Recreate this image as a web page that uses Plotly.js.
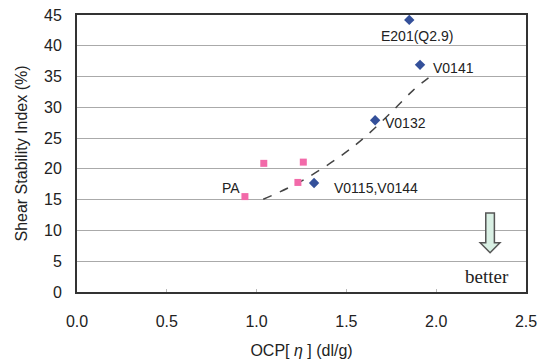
<!DOCTYPE html>
<html><head><meta charset="utf-8">
<script src="https://cdn.plot.ly/plotly-3.0.1.min.js"></script>
<style>html,body{margin:0;padding:0;background:#fff}#c{width:539px;height:363px}</style>
</head><body><div id="c"></div>
<script>
// OCP samples (blue diamonds)
const ocpX = [1.85, 1.91, 1.66, 1.32];
const ocpY = [44.2, 36.9, 27.9, 17.7];
const ocpNames = ["E201(Q2.9)", "V0141", "V0132", "V0115,V0144"];
// PA samples (pink squares)
const paX = [0.935, 1.04, 1.26, 1.23];
const paY = [15.5, 20.9, 21.1, 17.8];
// dashed trend curve
const trendX = [1.037, 1.242, 1.464, 1.604, 1.743, 1.873, 1.975];
const trendY = [15.06, 17.9, 22.0, 25.2, 29.0, 32.8, 35.2];
const xTicks = [0, 0.5, 1.0, 1.5, 2.0, 2.5];
const xTickText = ["0.0", "0.5", "1.0", "1.5", "2.0", "2.5"];
const yTicks = [0, 5, 10, 15, 20, 25, 30, 35, 40, 45];

const traces = [
  {x: trendX, y: trendY, mode: "lines", line: {color: "#444", width: 1.5, dash: "dash", shape: "spline"}, hoverinfo: "skip"},
  {x: paX, y: paY, mode: "markers", marker: {symbol: "square", size: 7, color: "#f26aa9"}},
  {x: ocpX, y: ocpY, mode: "markers", marker: {symbol: "diamond", size: 8, color: "#34509a"}}
];
const fam = "Liberation Sans, Arial, sans-serif";
const f = {family: fam, size: 14, color: "#222"};
const layout = {
  width: 539, height: 363, showlegend: false,
  margin: {l: 77, r: 13, t: 15, b: 71},
  paper_bgcolor: "#fff", plot_bgcolor: "#fff",
  xaxis: {range: [0, 2.5], tickvals: xTicks, ticktext: xTickText, showgrid: false, zeroline: false,
    ticks: "inside", ticklen: 3, tickcolor: "#bbb", ticklabelstandoff: 14,
    tickfont: {family: fam, size: 16, color: "#222"},
    title: {text: "OCP[ <i>η</i> ] (dl/g)", font: {family: fam, size: 16, color: "#222"}, standoff: 16},
    showline: true, linecolor: "#333", linewidth: 2, mirror: true},
  yaxis: {range: [0, 45], tickvals: yTicks, showgrid: true, gridcolor: "#aaa", gridwidth: 1, zeroline: false,
    ticks: "", ticklabelstandoff: 10, tickfont: {family: fam, size: 16, color: "#222"},
    title: {text: "Shear Stability Index (%)", font: {family: fam, size: 16, color: "#222"}, standoff: 12},
    showline: true, linecolor: "#333", linewidth: 2, mirror: true},
  annotations: [
    {x: 1.893, y: 41.6, text: ocpNames[0], showarrow: false, xanchor: "center", font: f},
    {x: 1.971, y: 36.4, text: ocpNames[1], showarrow: false, xanchor: "left", font: f},
    {x: 1.704, y: 27.45, text: ocpNames[2], showarrow: false, xanchor: "left", font: f},
    {x: 1.42, y: 16.9, text: ocpNames[3], showarrow: false, xanchor: "left", font: f},
    {x: 0.855, y: 16.9, text: "PA", showarrow: false, xanchor: "center", font: f},
    {x: 2.283, y: 2.6, text: "better", showarrow: false, xanchor: "center",
      font: {family: "Liberation Serif, Times New Roman, serif", size: 19, color: "#222"}}
  ],
  shapes: [
    {type: "path", xref: "x", yref: "y",
     path: "M2.276,12.83 L2.324,12.83 L2.324,8.0 L2.355,8.0 L2.30,6.38 L2.245,8.0 L2.276,8.0 Z",
     fillcolor: "#d9f0e4", line: {color: "#555", width: 1.5}}
  ]
};
Plotly.newPlot("c", traces, layout, {staticPlot: true});
</script></body></html>
